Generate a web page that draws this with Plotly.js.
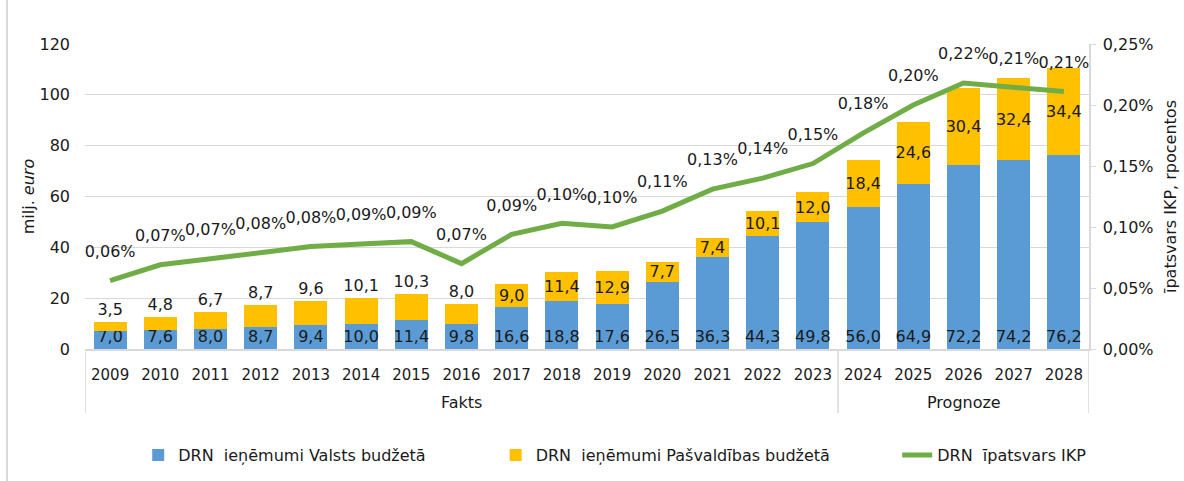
<!DOCTYPE html>
<html>
<head>
<meta charset="utf-8">
<script src="https://cdn.plot.ly/plotly-3.0.1.min.js"></script>
<style>
  html, body { margin: 0; padding: 0; background: #ffffff; }
  #frame { position: absolute; left: 6px; top: 0; width: 2px; height: 481px; background: #d9d9d9; pointer-events: none; z-index: 5; }
  #chart { width: 1184px; height: 481px; }
</style>
</head>
<body>
<div id="frame"></div>
<div id="chart"></div>
<script>
// ---- data ----
const years = ['2009','2010','2011','2012','2013','2014','2015','2016','2017','2018',
               '2019','2020','2021','2022','2023','2024','2025','2026','2027','2028'];
const periods = ['Fakts','Fakts','Fakts','Fakts','Fakts','Fakts','Fakts','Fakts','Fakts','Fakts',
                 'Fakts','Fakts','Fakts','Fakts','Fakts','Prognoze','Prognoze','Prognoze','Prognoze','Prognoze'];
const valstsBudzets = [7.0, 7.6, 8.0, 8.7, 9.4, 10.0, 11.4, 9.8, 16.6, 18.8,
                       17.6, 26.5, 36.3, 44.3, 49.8, 56.0, 64.9, 72.2, 74.2, 76.2];
const pasvaldibasBudzets = [3.5, 4.8, 6.7, 8.7, 9.6, 10.1, 10.3, 8.0, 9.0, 11.4,
                            12.9, 7.7, 7.4, 10.1, 12.0, 18.4, 24.6, 30.4, 32.4, 34.4];
const ipatsvarsIKP = [0.056, 0.069, 0.074, 0.079, 0.084, 0.086, 0.088, 0.070, 0.094, 0.103,
                      0.100, 0.113, 0.131, 0.140, 0.152, 0.177, 0.200, 0.218, 0.214, 0.211];
const seriesNames = ['DRN\u00a0\u00a0ieņēmumi Valsts budžetā',
                     'DRN\u00a0\u00a0ieņēmumi Pašvaldības budžetā',
                     'DRN\u00a0\u00a0īpatsvars IKP'];

// ---- chart ----
const FONT = 'DejaVu Sans, Verdana, sans-serif';
const TXT = '#1a1a1a';
const GRID = '#d9d9d9';

const totals = valstsBudzets.map((v, i) => v + pasvaldibasBudzets[i]);
const yellowPos = totals.map(t => t < 23 ? 'outside' : 'inside');
const fmt1 = v => v.toFixed(1).replace('.', ',');
const fmtPct = v => v.toFixed(2).replace('.', ',') + '%';

const traces = [
  {
    type: 'bar', name: seriesNames[0], x: years, y: valstsBudzets, legend: 'legend',
    marker: { color: '#5B9BD5' },
    text: valstsBudzets.map(fmt1), textposition: 'inside', insidetextanchor: 'start',
    constraintext: 'none', textangle: 0,
    textfont: { family: FONT, size: 16, color: TXT },
    hoverinfo: 'y+name'
  },
  {
    type: 'bar', name: seriesNames[1], x: years, y: pasvaldibasBudzets, legend: 'legend2',
    marker: { color: '#FFC000' },
    text: pasvaldibasBudzets.map(fmt1), textposition: yellowPos, insidetextanchor: 'middle',
    constraintext: 'none', textangle: 0, cliponaxis: false,
    textfont: { family: FONT, size: 16, color: TXT },
    hoverinfo: 'y+name'
  },
  {
    type: 'scatter', mode: 'lines+markers+text', name: seriesNames[2], x: years, y: ipatsvarsIKP,
    yaxis: 'y2', legend: 'legend3',
    line: { color: '#70AD47', width: 5 },
    marker: { size: 30, color: 'rgba(0,0,0,0)' },
    text: ipatsvarsIKP.map(fmtPct), textposition: 'top center', cliponaxis: false,
    textfont: { family: FONT, size: 16, color: TXT },
    hoverinfo: 'y+name'
  }
];

// group dividers and group labels for the second category level (derived from periods)
const shapes = [];
const annotations = [];
let start = 0;
for (let i = 1; i <= periods.length; i++) {
  if (i === periods.length || periods[i] !== periods[start]) {
    if (start === 0) {
      shapes.push({ type: 'line', xref: 'x', yref: 'paper', x0: start - 0.5, x1: start - 0.5, y0: 0, y1: -0.21,
                    line: { color: GRID, width: 1.5 } });
    }
    shapes.push({ type: 'line', xref: 'x', yref: 'paper', x0: i - 0.5, x1: i - 0.5, y0: 0, y1: -0.21,
                  line: { color: GRID, width: 1.5 } });
    annotations.push({ xref: 'x', yref: 'paper', x: (start + i - 1) / 2, y: -0.177, yanchor: 'middle',
                       text: periods[start], showarrow: false,
                       font: { family: FONT, size: 16, color: TXT } });
    start = i;
  }
}

const legendBase = { orientation: 'h', yanchor: 'middle', xanchor: 'left', y: -0.348,
                     font: { family: FONT, size: 16, color: TXT }, bgcolor: 'rgba(0,0,0,0)' };

const layout = {
  width: 1184, height: 481,
  margin: { l: 85, r: 95, t: 44, b: 132, autoexpand: false },
  paper_bgcolor: '#ffffff', plot_bgcolor: '#ffffff',
  font: { family: FONT, size: 15, color: TXT },
  separators: ',.',
  barmode: 'stack', bargap: 0.34,
  showlegend: true,
  legend: Object.assign({}, legendBase, { x: 0.053 }),
  legend2: Object.assign({}, legendBase, { x: 0.409 }),
  legend3: Object.assign({}, legendBase, { x: 0.809 }),
  shapes: shapes,
  annotations: annotations,
  xaxis: {
    type: 'category', range: [-0.5, years.length - 0.5], automargin: false, tickangle: 0,
    ticklabelstandoff: 11,
    showline: true, linecolor: GRID, linewidth: 1.5,
    ticks: '', showgrid: false,
    tickfont: { family: FONT, size: 15, color: TXT }
  },
  yaxis: {
    automargin: false,
    range: [0, 120], dtick: 20, showgrid: true, gridcolor: GRID, gridwidth: 1,
    zeroline: false, showline: false, ticks: '', ticklabelstandoff: 14,
    tickfont: { family: FONT, size: 16, color: TXT },
    title: { text: 'milj. <i>euro</i>', font: { family: FONT, size: 16, color: TXT }, standoff: 0 }
  },
  yaxis2: {
    automargin: false,
    overlaying: 'y', side: 'right', range: [0, 0.25], dtick: 0.05,
    tickformat: '.2f', ticksuffix: '%',
    showgrid: false, zeroline: false,
    showline: true, linecolor: GRID, linewidth: 1.5,
    ticks: 'outside', ticklen: 5, tickcolor: GRID, ticklabelstandoff: 4,
    tickfont: { family: FONT, size: 16, color: TXT },
    title: { text: 'īpatsvars IKP, rpocentos', font: { family: FONT, size: 16, color: TXT }, standoff: 12 }
  }
};

Plotly.newPlot('chart', traces, layout, { displayModeBar: false, staticPlot: true });
</script>
</body>
</html>
